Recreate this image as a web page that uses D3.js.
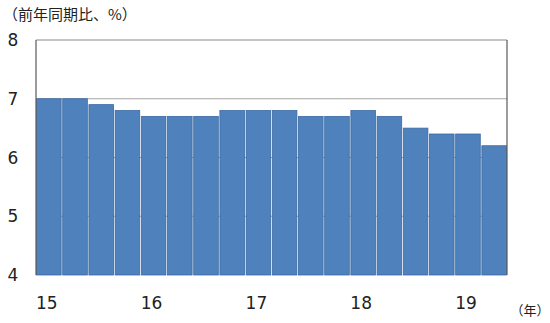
<!DOCTYPE html>
<html>
<head>
<meta charset="utf-8">
<script src="https://cdn.jsdelivr.net/npm/d3@7"></script>
<style>
  body { margin: 0; background: #fff; }
  text { font-family: "DejaVu Sans", "Noto Sans CJK JP", sans-serif; fill: #222; }
</style>
</head>
<body>
<div id="chart"></div>
<script>
// quarterly real GDP growth, % y/y
var quarters = ["15Q1","15Q2","15Q3","15Q4","16Q1","16Q2","16Q3","16Q4",
                "17Q1","17Q2","17Q3","17Q4","18Q1","18Q2","18Q3","18Q4",
                "19Q1","19Q2"];
var growth = [7.0, 7.0, 6.9, 6.8, 6.7, 6.7, 6.7, 6.8,
              6.8, 6.8, 6.7, 6.7, 6.8, 6.7, 6.5, 6.4,
              6.4, 6.2];
var yearTicks = ["15Q1","16Q1","17Q1","18Q1","19Q1"];
var yearLabels = ["15","16","17","18","19"];
var yTicks = [4, 5, 6, 7, 8];

var W = 550, H = 323;
var margin = {top: 40, right: 43, bottom: 48, left: 36},
    width = W - margin.left - margin.right,
    height = H - margin.top - margin.bottom;

var svg = d3.select("#chart")
  .append("svg")
  .attr("width", W)
  .attr("height", H);

var g = svg.append("g")
  .attr("transform", "translate(" + margin.left + "," + margin.top + ")");

var x = d3.scaleBand()
  .domain(quarters)
  .range([0, width])
  .paddingInner(0.06)
  .paddingOuter(0.02);

var y = d3.scaleLinear()
  .domain([4, 8])
  .range([height, 0]);

// gridlines (behind bars)
g.selectAll("line.grid")
  .data(yTicks.filter(d => d > 4 && d < 8))
  .enter()
  .append("line")
  .attr("x1", 0)
  .attr("x2", width)
  .attr("y1", d => y(d))
  .attr("y2", d => y(d))
  .style("stroke", "#a6a6a6")
  .style("stroke-width", 1.2);

// bars
g.selectAll("rect.bar")
  .data(growth)
  .enter()
  .append("rect")
  .attr("x", (d, i) => x(quarters[i]))
  .attr("y", d => y(d))
  .attr("width", x.bandwidth())
  .attr("height", d => height - y(d))
  .style("fill", "#4f81bd")
  .style("stroke", "#3a6aa3")
  .style("stroke-width", 0.8);

// plot frame: top, left, right
g.append("line")
  .attr("x1", 0).attr("x2", width)
  .attr("y1", y(8)).attr("y2", y(8))
  .style("stroke", "#8c8c8c").style("stroke-width", 1.2);
g.append("line")
  .attr("x1", 0).attr("x2", 0)
  .attr("y1", y(8)).attr("y2", y(4))
  .style("stroke", "#595959").style("stroke-width", 1.2);
g.append("line")
  .attr("x1", width).attr("x2", width)
  .attr("y1", y(8)).attr("y2", y(4))
  .style("stroke", "#595959").style("stroke-width", 1.2);

// y tick labels
g.selectAll("text.ytick")
  .data(yTicks)
  .enter()
  .append("text")
  .attr("x", -23)
  .attr("y", d => y(d))
  .attr("dy", "0.36em")
  .attr("text-anchor", "middle")
  .style("font-size", "17px")
  .text(d => d);

// x tick labels (year, placed under Q1)
g.selectAll("text.xtick")
  .data(yearTicks)
  .enter()
  .append("text")
  .attr("x", (d, i) => x(d) + x.bandwidth() / 2 - 2)
  .attr("y", height + 28)
  .attr("dy", "0.36em")
  .attr("text-anchor", "middle")
  .style("font-size", "17px")
  .text((d, i) => yearLabels[i]);

// unit labels
svg.append("text")
  .attr("x", 3)
  .attr("y", 15)
  .attr("dy", "0.36em")
  .style("font-family", "'Noto Sans CJK JP', sans-serif")
  .style("font-size", "15px")
  .text("（前年同期比、%）");

svg.append("text")
  .attr("x", 530)
  .attr("y", 310)
  .attr("dy", "0.36em")
  .attr("text-anchor", "middle")
  .style("font-family", "'Noto Sans CJK JP', sans-serif")
  .style("font-size", "13px")
  .text("（年）");
</script>
</body>
</html>
